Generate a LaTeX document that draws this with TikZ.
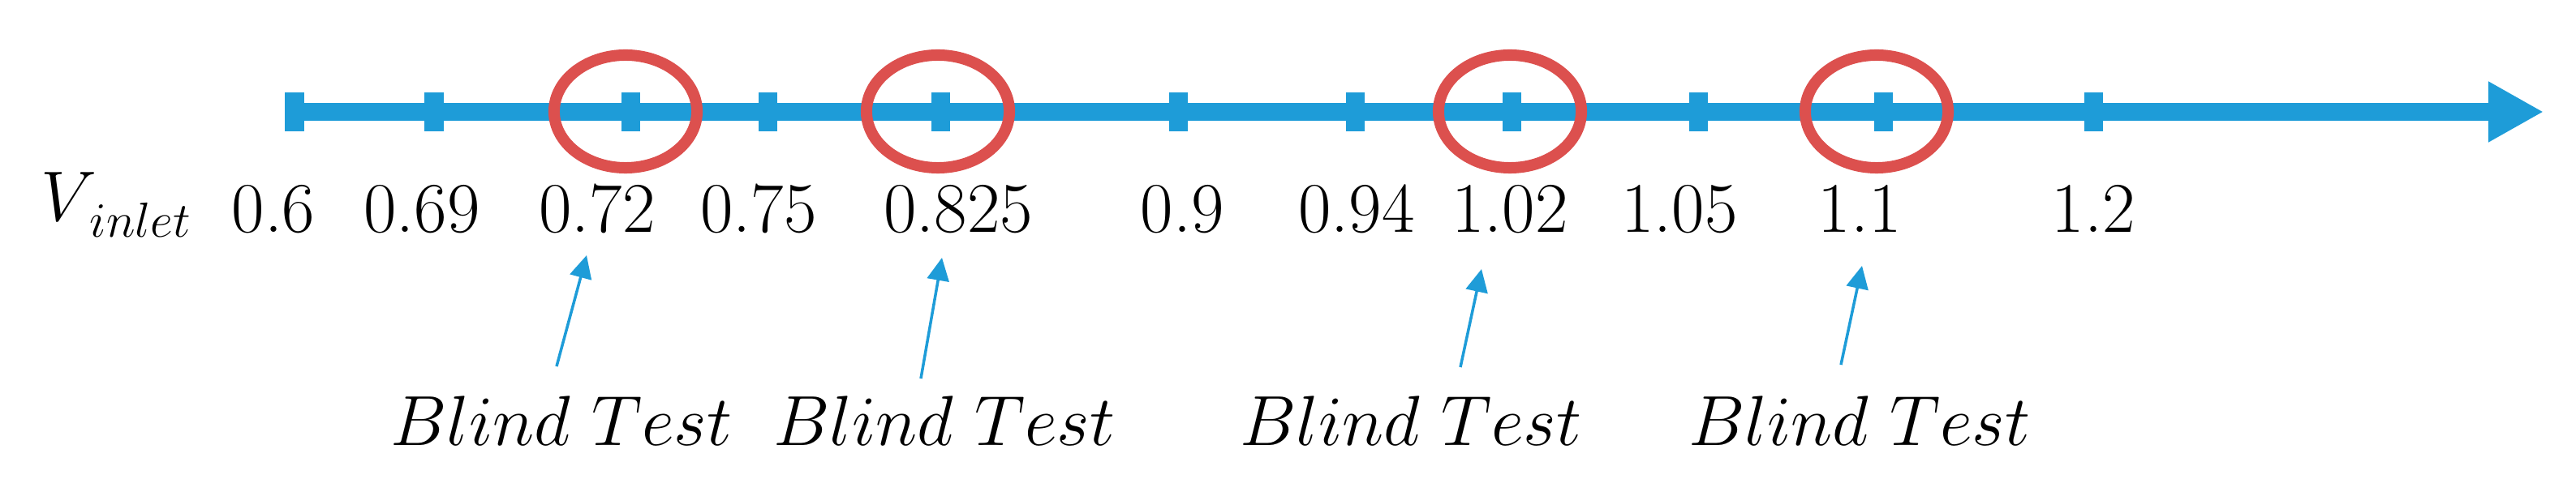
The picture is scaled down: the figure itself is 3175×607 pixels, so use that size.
\documentclass[tikz,border=0pt]{standalone}
\usetikzlibrary{arrows.meta,shapes.geometric}
\definecolor{axisblue}{RGB}{30,156,216}
\definecolor{ringred}{RGB}{220,80,78}
\tikzset{
  lbl/.style={font=\fontsize{25}{30}\selectfont, anchor=base, inner sep=0pt},
  tickmark/.style={rectangle, fill=axisblue, draw=none, minimum width=0.23cm, minimum height=0.48cm, inner sep=0pt},
  ring/.style={ellipse, draw=ringred, line width=0.14cm, minimum width=1.76cm, minimum height=1.39cm, inner sep=0pt},
  axisline/.style={draw=axisblue, line width=0.22cm, -{Triangle[length=0.68cm,width=0.70cm]}},
  pointer/.style={draw=axisblue, line width=0.035cm, -{Triangle[length=0.28cm,width=0.27cm]}}
}
\begin{document}
\begin{tikzpicture}[x=0.01cm,y=-0.01cm]
\useasboundingbox (0,0) rectangle (3175,607);
% axis
\coordinate (astart) at (363,138);
\coordinate (aend) at (3135,138);
\draw[axisline] (astart) -- (aend);
% ticks
\node[tickmark] (t1) at (363,138) {};
\node[tickmark] (t2) at (535,138) {};
\node[tickmark] (t3) at (777,138) {};
\node[tickmark] (t4) at (946,138) {};
\node[tickmark] (t5) at (1159,138) {};
\node[tickmark] (t6) at (1452,138) {};
\node[tickmark] (t7) at (1670,138) {};
\node[tickmark] (t8) at (1863,138) {};
\node[tickmark] (t9) at (2093,138) {};
\node[tickmark] (t10) at (2321,138) {};
\node[tickmark] (t11) at (2580,138) {};
% rings
\node[ring] (r1) at (771,137.5) {};
\node[ring] (r2) at (1156,137.5) {};
\node[ring] (r3) at (1861,137.5) {};
\node[ring] (r4) at (2313,137.5) {};
% labels
\node[lbl, anchor=base west] (vin) at (50,273) {$V$\kern-0.1em\raisebox{-0.19cm}{\fontsize{19}{20}\selectfont$inlet$}};
\node[lbl] (l1) at (337,287) {0.6};
\node[lbl] (l2) at (520,287) {0.69};
\node[lbl] (l3) at (736,287) {0.72};
\node[lbl] (l4) at (935,287) {0.75};
\node[lbl] (l5) at (1181,287) {0.825};
\node[lbl] (l6) at (1457,287) {0.9};
\node[lbl] (l7) at (1672,287) {0.94};
\node[lbl] (l8) at (1861,287) {1.02};
\node[lbl] (l9) at (2070,287) {1.05};
\node[lbl] (l10) at (2292,287) {1.1};
\node[lbl] (l11) at (2580,287) {1.2};
% blind tests
\node[lbl] (b1) at (692,550) {$Blind\ Test$};
\node[lbl] (b2) at (1164,550) {$Blind\ Test$};
\node[lbl] (b3) at (1739,550) {$Blind\ Test$};
\node[lbl] (b4) at (2292,550) {$Blind\ Test$};
% pointers
\coordinate (p1s) at (686,452); \coordinate (p1e) at (723,315);
\coordinate (p2s) at (1135,467); \coordinate (p2e) at (1161,318);
\coordinate (p3s) at (1800,453); \coordinate (p3e) at (1826,332);
\coordinate (p4s) at (2269,450); \coordinate (p4e) at (2295,328);
\draw[pointer] (p1s) -- (p1e);
\draw[pointer] (p2s) -- (p2e);
\draw[pointer] (p3s) -- (p3e);
\draw[pointer] (p4s) -- (p4e);
\end{tikzpicture}
\end{document}
